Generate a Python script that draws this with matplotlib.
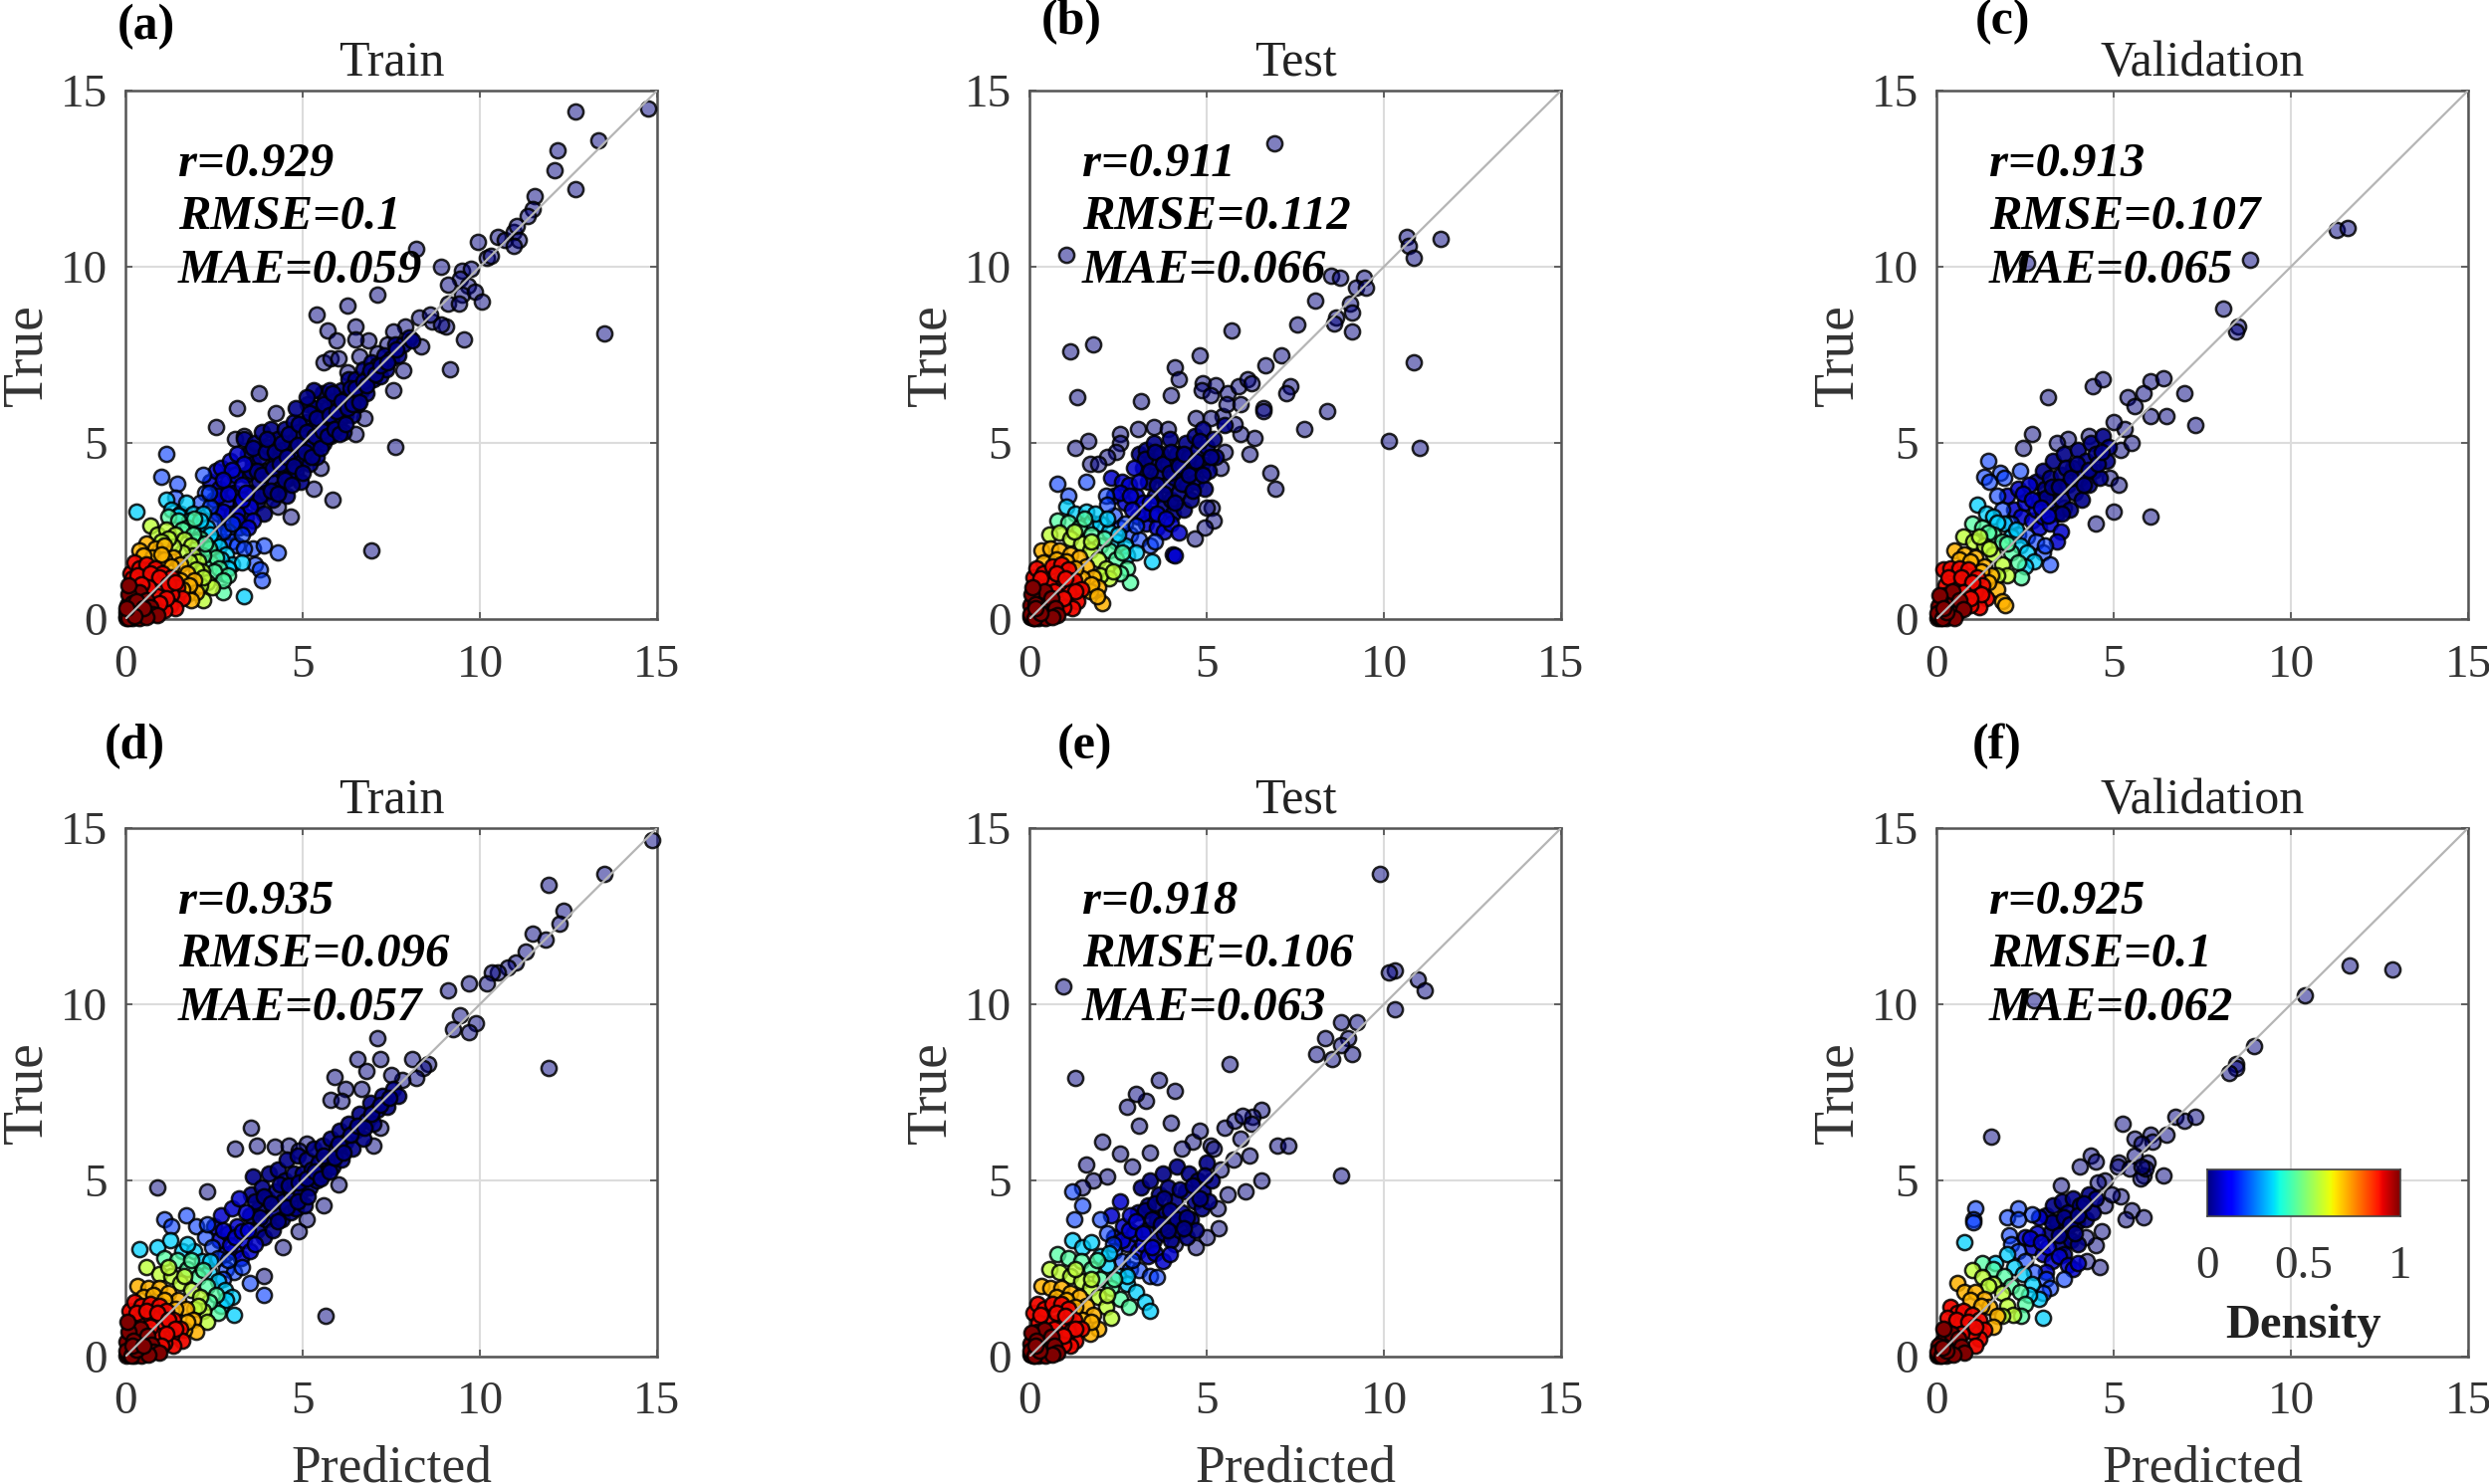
import numpy as np
import matplotlib
matplotlib.use('Agg')
import matplotlib.pyplot as plt

plt.rcParams['font.family'] = ['Liberation Serif', 'DejaVu Serif']

W, H = 2500, 1491

# density given to each list of points, same order in every panel
density_levels = [0.0, 0.01, 0.07, 0.18, 0.33, 0.45, 0.58, 0.72, 0.9, 1.0]
level_alpha = [0.5, 0.9, 0.85, 0.6, 0.75, 0.75, 0.8, 0.85, 0.95, 1.0]

panel_letters = ['(a)', '(b)', '(c)', '(d)', '(e)', '(f)']
panel_titles = ['Train', 'Test', 'Validation', 'Train', 'Test', 'Validation']
r_values = ['0.929', '0.911', '0.913', '0.935', '0.918', '0.925']
rmse_values = ['0.1', '0.112', '0.107', '0.096', '0.106', '0.1']
mae_values = ['0.059', '0.066', '0.065', '0.057', '0.063', '0.062']
axis_ticks = [0, 5, 10, 15]

a_points = [
    [(14.75,14.5),(12.7,14.4),(13.35,13.6),(12.2,13.3),(12.1,12.75),(12.7,12.2),(11.55,12.0),(11.5,11.65),(11.35,11.45),
     (9.95,10.7),(10.5,10.85),(10.7,10.75),(10.95,11.0),(11.05,11.15),(11.1,10.75),(10.95,10.6),(10.2,10.25),(10.3,10.3),
     (8.2,10.5),(8.9,10.0),(9.5,9.9),(9.75,9.95),(9.45,9.65),(9.1,9.5),(9.65,9.45),(9.5,9.2),(9.85,9.3),(10.05,9.0),(9.1,8.95),
     (9.4,8.95),(7.1,9.2),(6.25,8.9),(5.4,8.65),(6.5,8.3),(5.7,8.2),(5.95,7.9),(9.05,8.3),(9.55,7.95),(13.5,8.1),(9.15,7.1),
     (7.6,4.9),(6.95,1.95),(5.85,3.4),(3.75,6.4),(3.15,6.0),(2.55,5.45),(4.25,5.85),(6.5,5.25),(6.75,5.7),(7.55,6.5),(7.85,7.05),
     (8.35,7.75),(8.65,8.45),(8.9,8.35),(8.3,8.55),(8.6,8.65),(7.9,8.3),(7.55,8.15),(7.4,7.8),(6.85,7.9),(6.5,7.95),(6.6,7.45),
     (5.6,7.3),(5.8,7.4),(6.0,7.4),(6.25,7.0),(7.1,7.55),(4.65,2.9),(4.3,3.2),(5.3,3.7),(5.5,4.3),(3.1,5.1),(3.35,5.2)],
    [(3.4,4.1),(3.45,4.7),(3.35,5.1),(3.55,3.6),(3.6,4.4),(3.65,5.0),(3.7,3.3),(3.75,3.9),(3.8,4.6),(3.85,5.3),(3.9,3.0),(3.95,3.6),
     (4.0,4.2),(4.05,4.9),(4.1,5.4),(4.15,3.4),(4.2,3.9),(4.25,4.5),(4.3,5.1),(4.35,3.7),(4.4,4.2),(4.45,4.8),(4.5,5.4),(4.55,3.5),
     (4.6,4.0),(4.65,4.5),(4.7,5.0),(4.75,5.6),(4.8,4.2),(4.85,4.7),(4.9,5.3),(4.95,3.9),(5.0,4.5),(5.05,5.0),(5.1,5.6),(5.15,6.1),
     (5.2,4.4),(5.25,4.9),(5.3,5.4),(5.35,6.0),(5.4,4.6),(5.45,5.1),(5.5,5.7),(5.55,6.4),(5.6,5.0),(5.65,5.5),(5.7,6.0),(5.75,6.5),
     (5.8,5.2),(5.85,5.7),(5.9,6.2),(6.0,5.5),(6.05,6.0),(6.1,6.5),(6.15,5.3),(6.2,5.8),(6.25,6.3),(6.3,6.8),(6.4,5.8),(6.45,6.3),
     (6.5,6.8),(6.55,6.1),(6.65,6.5),(6.7,7.1),(6.8,6.4),(6.85,6.9),(6.95,7.3),(7.0,6.8),(7.1,7.2),(7.2,6.9),(7.3,7.5),(7.35,7.1),
     (7.5,7.4),(7.6,7.8),(7.7,7.5),(7.85,7.8),(8.0,8.0),(8.1,7.9),(5.3,6.5),(5.1,6.3),(4.8,6.0),
     (3.55,4.2),(3.6,4.85),(3.7,4.2),(3.8,3.5),(3.85,4.1),(3.95,4.75),(4.0,5.1),(4.1,3.65),(4.15,4.3),(4.2,4.75),(4.3,3.55),(4.35,4.4),
     (4.4,5.0),(4.5,3.95),(4.55,4.6),(4.6,5.25),(4.7,3.8),(4.75,4.35),(4.85,4.95),(4.9,5.55),(5.0,4.15),(5.05,4.75),(5.1,5.3),(5.2,5.85),
     (5.25,4.6),(5.35,5.2),(5.4,5.7),(5.5,4.85),(5.55,5.35),(5.6,6.1),(5.7,5.2),(5.75,5.8),(5.85,6.4),(5.9,5.4),(5.95,5.9),(6.05,5.25),
     (6.1,6.2),(6.2,5.55),(6.25,6.0),(6.35,6.55),(6.4,6.1),(6.5,6.55),(6.6,6.15),(6.7,6.75),(6.8,6.65),(6.9,7.05),(7.05,6.95),(7.2,7.2),
     (7.4,7.3),(7.65,7.65)],
    [(2.4,3.9),(2.5,3.4),(2.55,4.2),(2.6,3.0),(2.65,3.7),(2.7,4.3),(2.8,2.7),(2.85,3.3),(2.9,3.9),(2.95,4.5),(3.0,3.0),(3.05,3.6),
     (3.1,4.1),(3.15,4.7),(3.2,2.6),(3.25,3.3),(3.3,3.8),(3.35,4.4),(3.4,2.9),(3.5,3.2),(3.6,2.8),
     (2.6,3.5),(2.75,3.05),(2.9,3.55),(3.0,4.25),(3.15,3.0),(3.3,3.4),(3.4,3.6),(2.75,3.95),(3.15,2.8),(3.45,2.6)],
    [(1.15,4.7),(1.0,4.05),(1.45,3.85),(1.4,3.45),(2.2,4.1),(2.25,3.6),(2.1,3.3),(2.4,3.2),(2.5,2.8),(2.6,2.4),(2.75,2.2),(2.9,2.5),
     (3.0,2.2),(3.15,2.1),(3.3,2.4),(3.6,2.0),(3.65,1.55),(3.8,1.4),(3.85,1.1),(3.35,2.0),(4.3,1.9),(3.9,2.1),(2.35,3.6),(2.75,2.5),(3.0,2.7)],
    [(0.3,3.05),(1.15,3.4),(1.3,3.1),(1.55,3.0),(1.7,3.3),(1.9,3.0),(2.0,2.6),(2.2,3.0),(2.3,2.6),(2.5,2.2),(2.65,2.05),(2.85,1.85),
     (3.0,1.55),(2.75,1.3),(2.4,1.9),(3.3,1.6),(3.35,0.65),(1.5,2.95),(1.8,2.8),(2.1,2.8),(2.4,2.4),(2.7,1.7),(2.9,1.45)],
    [(1.2,2.9),(1.5,2.8),(1.75,2.6),(1.95,2.85),(2.1,2.3),(2.35,2.0),(2.4,1.6),(2.55,1.75),(2.65,1.45),(2.9,1.25),(2.2,1.8),(2.75,0.75),(2.0,2.2),
     (1.6,2.55),(1.9,2.4),(2.25,2.15),(2.5,1.35),(2.75,1.1)],
    [(0.7,2.65),(0.9,2.4),(1.15,2.55),(1.4,2.4),(1.65,2.25),(1.85,2.1),(1.9,1.8),(2.05,1.65),(2.15,1.35),(2.3,1.05),(2.45,0.9),(2.1,0.95),
     (2.2,0.55),(1.6,1.9),(1.35,2.05),(1.2,2.3),(1.8,1.65),(2.0,1.4),(2.2,1.2),(1.0,2.2)],
    [(0.6,2.15),(0.85,2.0),(1.1,2.1),(1.35,1.75),(1.55,1.55),(1.75,1.3),(1.95,1.1),(2.0,0.75),(1.75,0.7),(0.4,1.95),(0.75,1.75),(1.1,1.7),
     (1.55,1.1),(1.8,0.95),(0.5,1.8),(1.0,1.85),(1.3,1.5),(1.6,0.85),(1.85,0.55)],
    [(0.15,1.3),(0.25,1.6),(0.4,1.45),(0.6,1.55),(0.85,1.45),(1.05,1.3),(1.3,1.2),(1.45,0.9),(1.6,0.6),(1.3,0.7),(1.0,0.95),(0.75,1.1),
     (0.5,1.15),(1.25,0.4),(1.05,0.45),(1.4,0.3),(0.3,1.0),(0.9,0.65),(0.55,0.85),(1.1,0.25),(0.8,0.3),
     (0.2,1.15),(0.35,1.25),(0.7,1.3),(0.95,1.2),(1.2,1.0),(1.4,1.05),(1.15,0.6),(0.65,0.9),(0.95,0.45),(0.45,1.0)],
    [(0.05,0.1),(0.1,0.05),(0.12,0.3),(0.2,0.15),(0.15,0.55),(0.3,0.3),(0.35,0.1),(0.25,0.75),(0.45,0.5),(0.55,0.2),(0.4,0.75),(0.6,0.55),
     (0.7,0.35),(0.75,0.15),(0.9,0.1),(0.05,0.4),(0.08,0.7),(0.02,0.02),(0.03,0.2),(0.2,0.02),(0.4,0.03),(0.6,0.05),(0.08,0.95),(0.2,0.45),
     (0.3,0.5),(0.5,0.3),(0.15,0.15),(0.12,0.12),(0.1,0.2),(0.06,0.06),(0.02,0.08),(0.08,0.02),(0.25,0.08),(0.04,0.3)],
]

b_points = [
    [(6.9,13.5),(1.05,10.35),(10.65,10.85),(10.7,10.6),(11.6,10.8),(10.85,10.25),(8.5,9.75),(8.75,9.7),(9.45,9.7),(9.2,9.4),(9.5,9.4),
     (8.05,9.05),(9.05,8.95),(9.1,8.7),(8.65,8.55),(8.6,8.4),(7.55,8.35),(9.1,8.15),(5.7,8.2),(7.1,7.5),(1.15,7.6),(1.8,7.8),(4.8,7.5),
     (6.65,7.2),(10.85,7.3),(4.1,7.15),(4.2,6.8),(1.35,6.3),(3.15,6.2),(4.0,6.35),(4.9,6.7),(5.25,6.65),(4.85,6.5),(5.1,6.35),(5.6,6.4),
     (5.9,6.6),(6.15,6.8),(6.25,6.7),(7.35,6.6),(7.25,6.4),(6.6,6.0),(6.6,5.9),(8.4,5.9),(7.75,5.4),(10.15,5.05),(11.0,4.85),(6.35,5.15),
     (6.2,4.7),(6.8,4.15),(6.95,3.7),(5.4,4.3),(5.5,4.75),(5.95,5.25),(5.8,5.55),(5.45,5.75),(5.55,6.1),(5.95,6.1),(5.1,5.7),(4.7,5.7),
     (3.5,5.45),(3.05,5.4),(3.9,5.4),(2.55,5.25),(2.55,5.0),(2.45,4.75),(1.65,5.05),(1.3,4.85),(2.2,4.6),(1.7,4.4),(1.95,4.4),(5.15,3.15),
     (5.2,2.8),(4.95,2.6),(4.65,2.3),(5.0,3.15)],
    [(3.1,4.7),(3.2,4.3),(3.3,4.8),(3.35,3.9),(3.45,4.5),(3.5,5.0),(3.55,3.5),(3.65,4.1),(3.7,4.7),(3.75,3.2),(3.85,3.8),(3.9,4.4),
     (3.95,5.1),(4.0,3.4),(4.05,3.0),(4.1,4.0),(4.15,4.7),(4.2,3.6),(4.3,4.3),(4.35,3.1),(4.4,5.0),(4.45,3.8),(4.5,4.6),(4.55,3.4),
     (4.6,4.2),(4.65,5.2),(4.7,3.9),(4.75,4.8),(4.85,4.4),(4.9,5.4),(4.95,3.7),(5.0,4.9),(5.05,4.2),(5.2,5.1),(5.25,4.6),(5.5,5.5),
     (3.25,4.55),(3.4,4.2),(3.55,4.75),(3.6,3.8),(3.75,4.4),(3.8,3.55),(3.95,4.15),(4.0,4.75),(4.1,3.3),(4.2,4.35),(4.3,3.85),(4.35,4.7),
     (4.5,4.1),(4.6,3.65),(4.7,4.5),(4.8,5.05),(4.9,4.1),(5.1,4.6)],
    [(2.3,4.0),(2.4,3.5),(2.6,3.9),(2.7,3.3),(2.8,3.8),(2.95,4.3),(3.0,3.5),(3.05,2.9),(3.2,3.3),(3.3,2.7),(3.45,3.0),(3.6,2.6),(3.8,2.5),
     (4.0,2.7),(4.2,2.45),(4.05,1.85),(4.1,1.8),(2.55,3.6),(2.85,3.5),(3.1,3.9),(3.2,3.0),(3.4,3.3),(3.6,3.0),(3.85,2.85),(2.9,3.1)],
    [(0.8,3.85),(1.6,3.9),(2.15,3.5),(2.4,2.95),(2.55,2.6),(2.85,2.4),(3.1,2.25),(3.4,2.1),(3.55,2.2),(1.1,3.5),(2.2,3.25),(2.7,2.7),(3.0,2.65)],
    [(1.05,3.2),(1.3,3.0),(1.6,3.05),(1.75,2.75),(2.0,2.7),(2.25,2.5),(2.45,2.2),(2.7,2.1),(2.75,1.8),(3.45,1.65),(3.0,1.9),(1.85,3.0),(2.2,2.85),(2.5,2.4)],
    [(0.8,2.8),(1.1,2.75),(1.4,2.6),(1.75,2.4),(2.0,2.1),(2.25,1.95),(2.45,1.7),(2.75,1.45),(2.85,1.05),(2.55,1.3),(1.55,2.85),(2.1,2.3),(2.6,1.9)],
    [(0.55,2.4),(0.85,2.45),(1.15,2.3),(1.45,2.15),(1.7,1.95),(1.95,1.7),(2.15,1.45),(2.25,1.15),(2.0,1.25),(1.25,2.5),(1.75,2.2),(2.35,1.35)],
    [(0.35,1.95),(0.6,2.0),(0.85,1.95),(1.15,1.85),(1.4,1.75),(1.6,1.5),(1.8,1.2),(1.95,0.9),(2.05,0.45),(1.7,0.8),(1.5,1.15),(0.4,1.6),
     (0.75,1.7),(1.05,1.65),(1.3,1.45),(1.75,1.0),(1.9,0.65)],
    [(0.1,1.2),(0.2,1.45),(0.4,1.3),(0.65,1.5),(0.9,1.55),(1.1,1.4),(1.25,1.1),(1.45,0.85),(1.35,0.5),(1.1,0.75),(0.85,1.05),(0.55,0.95),
     (0.25,0.9),(1.2,0.3),(0.95,0.35),(0.3,1.15),(0.75,1.3),(1.0,1.15),(1.3,0.8),(0.7,0.8),(0.95,0.6)],
    [(0.03,0.05),(0.1,0.02),(0.08,0.25),(0.2,0.12),(0.12,0.5),(0.3,0.35),(0.35,0.08),(0.22,0.7),(0.48,0.55),(0.55,0.18),(0.42,0.8),(0.62,0.6),
     (0.72,0.32),(0.8,0.12),(0.03,0.4),(0.05,0.7),(0.25,0.02),(0.45,0.03),(0.65,0.06),(0.18,0.42),(0.07,0.07),(0.14,0.14),(0.02,0.15),(0.15,0.03),
     (0.3,0.18),(0.18,0.3),(0.08,0.9)],
]

c_points = [
    [(11.3,11.05),(11.6,11.1),(8.85,10.2),(8.1,8.8),(8.5,8.3),(8.45,8.15),(2.55,10.1),(3.15,6.3),(4.4,6.6),(4.7,6.8),(6.05,6.75),(6.4,6.85),
     (5.4,6.3),(5.6,6.05),(5.85,6.4),(6.05,5.75),(7.3,5.5),(6.5,5.75),(6.05,2.9),(5.0,3.05),(4.5,2.7),(3.6,3.15),(2.45,4.85),(2.7,5.25),
     (5.3,5.4),(5.0,5.6),(4.3,5.2),(5.2,4.8),(4.9,4.0),(5.5,5.0),(7.0,6.4),(3.7,5.1),(5.15,3.8),(3.4,5.0)],
    [(2.8,3.9),(2.9,3.4),(3.0,4.2),(3.05,3.7),(3.15,3.2),(3.2,4.0),(3.3,4.5),(3.35,3.6),(3.4,3.0),(3.5,4.1),(3.55,3.4),(3.6,4.7),(3.7,3.8),
     (3.75,3.1),(3.85,4.3),(3.9,3.6),(4.0,4.8),(4.05,4.0),(4.1,3.4),(4.2,4.5),(4.3,3.8),(4.35,5.0),(4.45,4.2),(4.5,4.7),(4.6,4.0),(4.7,5.2),
     (4.8,4.5),(4.85,4.9),(3.1,3.45),(3.25,3.75),(3.45,3.75),(3.65,4.3),(3.8,4.0),(3.95,4.4),(4.15,3.8),(4.3,4.25),(4.55,4.4),(4.65,4.75),(3.55,3.0)],
    [(2.0,3.5),(2.2,3.1),(2.3,3.7),(2.4,2.9),(2.5,3.3),(2.6,3.8),(2.7,2.8),(2.8,3.1),(2.9,2.6),(3.0,2.9),(3.2,2.7),(3.5,2.5),(3.4,2.2),
     (2.45,3.55),(2.7,3.4),(2.95,3.15),(3.15,2.95)],
    [(1.45,4.5),(1.35,4.05),(1.8,4.15),(2.35,4.2),(1.5,3.9),(1.9,4.0),(1.7,3.5),(1.85,3.1),(2.1,2.7),(2.3,2.4),(2.55,2.35),(2.8,2.2),(3.0,1.9),
     (3.05,2.1),(3.2,1.55)],
    [(1.15,3.25),(1.4,3.0),(1.6,2.9),(1.9,2.7),(2.1,2.35),(2.35,2.1),(2.55,1.9),(2.75,1.65),(2.5,1.5),(1.7,2.75),(2.25,2.55)],
    [(1.0,2.7),(1.3,2.6),(1.6,2.4),(1.85,2.2),(2.1,1.9),(2.3,1.6),(2.4,1.2),(1.45,2.45),(2.0,2.15)],
    [(0.75,2.35),(1.05,2.2),(1.35,2.1),(1.6,1.85),(1.85,1.55),(2.0,1.25),(1.7,1.25),(1.2,2.35),(1.5,2.0)],
    [(0.5,1.95),(0.8,1.85),(1.1,1.75),(1.35,1.5),(1.55,1.25),(1.7,0.85),(1.85,0.5),(1.95,0.4),(0.65,1.7),(0.95,1.65),(1.25,1.35),(1.45,1.05)],
    [(0.2,1.4),(0.4,1.45),(0.65,1.45),(0.9,1.4),(1.15,1.2),(1.3,0.95),(1.4,0.6),(1.1,0.8),(0.85,1.0),(0.55,1.0),(0.25,0.95),(1.2,0.35),(0.95,0.4),
     (0.35,1.2),(0.7,1.2),(1.0,1.05),(1.25,0.7),(0.75,0.75),(0.95,0.6)],
    [(0.04,0.03),(0.12,0.04),(0.1,0.22),(0.22,0.14),(0.14,0.48),(0.32,0.3),(0.38,0.1),(0.26,0.68),(0.5,0.5),(0.58,0.2),(0.44,0.78),(0.65,0.55),
     (0.75,0.28),(0.05,0.36),(0.08,0.68),(0.28,0.02),(0.5,0.04),(0.07,0.08),(0.16,0.16),(0.02,0.16),(0.18,0.03),(0.28,0.2),(0.2,0.3)],
]

d_points = [
    [(14.85,14.65),(13.5,13.7),(11.95,13.4),(12.35,12.65),(12.25,12.3),(11.5,12.0),(11.85,11.85),(11.95,8.2),(11.3,11.5),(11.0,11.2),(10.8,11.05),
     (10.5,10.9),(10.35,10.9),(10.2,10.6),(9.7,10.6),(9.1,10.4),(9.45,9.7),(9.9,9.45),(9.25,9.3),(9.7,9.2),(7.1,9.05),(7.2,8.45),(5.9,7.95),
     (6.55,8.45),(8.1,8.45),(8.55,8.3),(5.1,6.05),(3.55,6.5),(3.1,5.9),(5.65,1.15),(0.9,4.8),(2.3,4.7),(8.4,8.2),(8.2,7.9),(7.8,7.85),(7.5,8.0),
     (6.8,8.1),(6.2,7.6),(6.65,7.6),(5.8,7.3),(6.1,7.25),(7.2,6.5),(7.0,6.0),(6.0,4.9),(5.6,4.3),(5.1,3.9),(4.9,3.55),(4.45,3.1),(3.9,2.3),(3.7,6.0),
     (4.2,5.95),(4.6,6.0),(4.9,5.85)],
    [(3.5,4.0),(3.55,4.6),(3.6,5.1),(3.7,3.6),(3.75,4.2),(3.85,4.8),(3.9,3.4),(3.95,3.9),(4.0,4.5),(4.05,5.2),(4.15,3.6),(4.2,4.1),(4.25,4.7),
     (4.3,5.3),(4.4,3.9),(4.45,4.4),(4.5,5.0),(4.55,5.6),(4.65,4.1),(4.7,4.6),(4.75,5.2),(4.8,4.2),(4.85,5.7),(4.95,4.7),(5.0,5.2),(5.05,4.3),
     (5.1,5.6),(5.2,4.8),(5.25,5.3),(5.3,5.9),(5.4,5.0),(5.45,5.5),(5.55,6.0),(5.6,5.2),(5.7,5.6),(5.8,6.2),(5.85,5.4),(5.95,5.9),(6.05,6.4),
     (6.1,5.6),(6.2,6.1),(6.3,6.6),(6.4,5.9),(6.5,6.4),(6.6,6.9),(6.7,6.2),(6.8,6.7),(6.9,7.2),(7.0,6.6),(7.1,7.0),(7.25,7.4),(7.4,7.1),(7.55,7.6),(7.7,7.4),
     (3.65,4.4),(3.8,3.95),(3.9,4.55),(4.1,4.35),(4.3,3.85),(4.35,4.9),(4.55,4.25),(4.6,4.85),(4.85,4.4),(4.9,4.95),(5.1,5.05),(5.15,4.55),(5.35,5.25),
     (5.5,5.05),(5.6,5.7),(5.75,5.25),(5.9,5.65),(6.0,6.05),(6.15,5.8),(6.35,6.3),(6.55,6.55),(6.75,6.5),(6.95,6.9),(7.2,7.15),(7.45,7.35)],
    [(2.5,3.7),(2.65,3.3),(2.7,4.0),(2.8,2.9),(2.9,3.5),(3.0,4.2),(3.05,3.0),(3.15,3.7),(3.2,4.5),(3.25,2.8),(3.35,3.3),(3.4,4.1),(3.5,3.0),(3.65,3.2),
     (2.75,3.6),(2.95,3.15),(3.1,3.4),(3.3,3.55),(3.45,3.6)],
    [(1.7,4.0),(2.0,3.7),(2.25,3.4),(2.45,3.1),(2.6,2.8),(2.85,2.5),(3.05,2.4),(3.3,2.55),(2.75,2.2),(1.1,3.9),(1.3,3.7),(3.5,2.1),(3.9,1.75),(2.3,3.75),(2.9,2.75)],
    [(0.4,3.05),(0.9,3.1),(1.25,3.3),(1.6,3.0),(1.95,3.0),(2.15,2.7),(2.35,2.4),(2.6,2.15),(2.8,1.9),(3.0,1.7),(3.05,1.2),(2.7,1.45),(1.75,3.2),(2.4,2.7),(2.85,1.6)],
    [(1.1,2.8),(1.45,2.75),(1.75,2.5),(2.05,2.25),(2.3,2.0),(2.55,1.75),(2.6,1.25),(2.35,1.55),(1.85,2.75),(2.2,2.45)],
    [(0.6,2.55),(0.95,2.35),(1.3,2.3),(1.55,2.1),(1.85,1.9),(2.1,1.7),(2.2,1.3),(2.3,1.0),(1.95,1.35),(1.2,2.55),(1.65,2.3),(2.05,1.45)],
    [(0.35,2.0),(0.65,1.95),(0.95,1.95),(1.2,1.8),(1.5,1.6),(1.7,1.35),(1.9,1.05),(2.0,0.7),(1.65,0.75),(0.5,1.7),(0.8,1.75),(1.1,1.6),(1.4,1.35),(1.75,1.0)],
    [(0.12,1.3),(0.25,1.55),(0.45,1.45),(0.7,1.5),(0.95,1.45),(1.15,1.3),(1.35,1.05),(1.55,0.8),(1.6,0.45),(1.3,0.6),(1.05,0.9),(0.8,1.1),(0.55,1.1),
     (1.35,0.3),(1.1,0.4),(0.3,1.0),(0.9,0.6),(0.3,1.25),(0.6,1.3),(0.9,1.25),(1.2,1.05),(1.4,0.8),(1.15,0.65),(0.7,0.85),(1.0,0.3)],
    [(0.03,0.04),(0.1,0.06),(0.1,0.28),(0.22,0.14),(0.16,0.55),(0.32,0.32),(0.36,0.12),(0.24,0.78),(0.46,0.52),(0.58,0.22),(0.42,0.78),(0.62,0.58),
     (0.74,0.34),(0.8,0.14),(0.95,0.1),(0.04,0.42),(0.08,0.72),(0.26,0.02),(0.46,0.03),(0.66,0.05),(0.07,0.98),(0.22,0.46),(0.07,0.08),(0.15,0.16),
     (0.02,0.17),(0.16,0.03),(0.3,0.2),(0.2,0.32),(0.5,0.32)],
]

e_points = [
    [(9.9,13.7),(0.95,10.5),(10.3,10.95),(10.15,10.9),(10.95,10.7),(11.15,10.4),(10.3,9.85),(8.8,9.5),(9.25,9.5),(9.0,9.05),(8.35,9.05),(8.1,8.6),
     (8.8,8.85),(9.1,8.6),(8.55,8.45),(1.3,7.9),(4.1,7.55),(3.65,7.85),(3.3,7.25),(3.0,7.45),(2.75,7.1),(5.65,8.3),(4.0,6.65),(3.1,6.55),(2.05,6.1),
     (1.6,5.45),(8.8,5.15),(6.55,7.0),(6.3,6.8),(7.0,6.0),(7.3,6.0),(6.55,5.0),(6.1,4.7),(5.35,3.65),(4.1,3.2),(5.1,6.0),(5.5,6.5),(5.8,6.7),(6.0,6.85),
     (6.25,6.6),(5.95,6.2),(6.2,5.7),(5.75,5.6),(5.4,5.3),(5.6,4.6),(4.6,6.1),(4.3,5.9),(3.4,5.8),(2.9,5.4),(2.55,5.75),(2.2,5.1),(1.8,5.0),(1.5,4.8),
     (5.3,4.2),(5.0,3.4),(4.7,3.1),(5.2,5.9),(4.8,6.4)],
    [(3.05,4.1),(3.15,4.8),(3.3,3.6),(3.35,4.3),(3.4,5.0),(3.5,3.3),(3.6,3.9),(3.65,4.6),(3.75,5.2),(3.8,3.5),(3.85,4.1),(3.9,4.8),(4.0,3.3),(4.05,3.8),
     (4.1,4.4),(4.15,5.4),(4.25,3.6),(4.3,4.1),(4.4,4.7),(4.45,3.4),(4.5,5.2),(4.55,3.9),(4.65,4.4),(4.7,3.6),(4.75,5.0),(4.85,4.2),(4.9,4.7),(5.0,5.5),
     (5.05,4.4),(5.15,5.0),(3.25,4.15),(3.45,3.9),(3.55,4.35),(3.7,3.75),(3.8,4.5),(3.95,4.15),(4.15,3.9),(4.25,4.75),(4.45,3.95),(4.6,4.85),(4.8,4.5),
     (4.95,5.15),(3.9,3.6),(4.35,3.65)],
    [(2.3,4.0),(2.4,3.4),(2.55,4.4),(2.65,3.7),(2.75,3.2),(2.85,4.0),(2.95,3.5),(3.05,3.0),(3.2,3.2),(3.35,2.85),(3.55,2.95),(3.75,2.7),(3.95,2.9),
     (2.6,3.3),(2.8,3.6),(3.0,3.85),(3.2,3.5),(3.45,3.1)],
    [(1.2,4.7),(1.5,4.3),(1.25,3.9),(2.0,3.9),(2.2,3.5),(2.4,3.0),(2.6,2.7),(2.85,2.5),(3.1,2.45),(3.4,2.3),(3.6,2.25),(2.35,3.2),(2.9,2.75)],
    [(1.2,3.3),(1.5,3.1),(1.75,3.25),(2.0,2.85),(2.2,2.6),(2.5,2.3),(2.75,2.05),(3.0,1.85),(3.25,1.55),(3.4,1.3),(2.25,2.95),(2.75,2.3)],
    [(0.8,2.9),(1.1,2.8),(1.45,2.7),(1.75,2.5),(2.0,2.2),(2.3,1.95),(2.55,1.65),(2.8,1.4),(1.9,2.75),(2.4,2.2)],
    [(0.55,2.5),(0.85,2.4),(1.15,2.3),(1.45,2.15),(1.7,1.95),(1.95,1.7),(2.15,1.4),(2.3,1.1),(1.3,2.5),(1.75,2.2),(2.2,1.75)],
    [(0.35,2.0),(0.6,1.95),(0.9,1.95),(1.15,1.8),(1.4,1.7),(1.6,1.45),(1.8,1.2),(1.95,0.8),(1.7,0.65),(1.5,1.05),(0.75,1.7),(1.05,1.6),(1.3,1.4),(1.75,1.0)],
    [(0.12,1.25),(0.22,1.5),(0.42,1.35),(0.65,1.5),(0.9,1.5),(1.1,1.35),(1.25,1.05),(1.45,0.8),(1.3,0.45),(1.1,0.7),(0.85,1.0),(0.55,0.95),(0.25,0.95),
     (1.15,0.3),(0.95,0.35),(0.3,1.2),(0.75,1.25),(1.0,1.15),(1.3,0.8),(0.7,0.8),(0.95,0.6)],
    [(0.03,0.05),(0.1,0.03),(0.09,0.26),(0.21,0.13),(0.13,0.52),(0.31,0.33),(0.34,0.09),(0.23,0.72),(0.47,0.53),(0.56,0.19),(0.41,0.76),(0.63,0.57),
     (0.71,0.3),(0.78,0.12),(0.04,0.38),(0.06,0.69),(0.24,0.02),(0.44,0.03),(0.64,0.05),(0.19,0.44),(0.06,0.07),(0.14,0.15),(0.02,0.16),(0.15,0.03),
     (0.28,0.18),(0.18,0.3)],
]

f_points = [
    [(12.87,11.0),(11.65,11.1),(10.4,10.25),(2.75,10.1),(8.95,8.8),(8.45,8.3),(8.45,8.2),(8.25,8.05),(6.75,6.8),(7.0,6.7),(7.3,6.8),(5.25,6.6),(1.55,6.25),
     (5.6,6.2),(6.05,6.3),(6.5,6.3),(6.1,6.1),(5.8,6.05),(5.6,5.7),(4.35,5.7),(4.5,5.55),(4.05,5.4),(5.15,5.5),(5.1,5.4),(5.45,5.35),(5.95,5.5),(5.85,5.15),
     (6.4,5.15),(5.75,5.05),(3.5,4.85),(4.75,5.0),(4.55,4.95),(5.2,4.55),(5.5,4.15),(5.35,3.9),(5.85,3.95),(4.6,2.55),(4.65,3.55),(4.5,3.15),(4.2,3.4),
     (4.25,2.7),(4.75,4.3),(4.95,4.6),(5.9,5.35),(5.8,5.4)],
    [(3.1,4.0),(3.2,3.5),(3.3,4.3),(3.4,3.8),(3.5,3.2),(3.55,4.4),(3.65,3.6),(3.7,4.1),(3.8,3.3),(3.85,4.5),(3.95,3.8),(4.0,3.2),(4.05,4.3),(4.2,3.9),
     (4.3,4.6),(4.4,4.1),(4.5,4.5),(3.6,2.9),(3.25,3.8),(3.45,3.45),(3.6,3.95),(3.75,3.75),(3.9,3.5),(4.0,4.0),(4.15,4.35)],
    [(2.5,3.4),(2.7,3.1),(2.85,3.5),(3.0,2.9),(3.15,3.1),(3.25,2.7),(3.45,2.85),(3.7,2.6),(3.85,2.5),(4.0,2.65),(2.9,3.95),(3.1,2.4),(2.65,3.35),(2.95,3.25)],
    [(1.1,4.2),(1.05,3.9),(1.05,3.8),(2.3,4.2),(2.7,4.05),(2.0,3.95),(2.3,3.9),(2.05,3.45),(2.1,3.2),(2.3,3.0),(2.5,2.7),(2.75,2.4),(3.1,2.2),(3.2,1.95),(3.6,2.2),(3.0,1.8)],
    [(0.8,3.25),(1.65,2.65),(2.0,2.9),(2.2,2.55),(2.45,2.35),(2.7,2.05),(2.9,1.65),(3.0,1.1),(2.6,1.75)],
    [(1.3,2.65),(1.6,2.5),(1.9,2.3),(2.1,2.0),(2.35,1.85),(2.5,1.5),(2.4,1.15)],
    [(1.0,2.45),(1.3,2.25),(1.6,2.05),(1.85,1.8),(2.0,1.45),(2.15,1.2),(1.85,1.15),(1.45,2.0)],
    [(0.6,2.1),(0.8,1.85),(1.1,1.85),(1.35,1.65),(1.5,1.4),(1.7,1.15),(1.6,0.85),(0.95,1.6),(1.25,1.45)],
    [(0.4,1.4),(0.6,1.25),(0.75,1.3),(1.0,1.2),(1.2,1.05),(1.35,0.75),(1.2,0.5),(1.0,0.7),(0.8,0.85),(0.5,0.9),(1.1,0.3),(0.3,1.1),(0.55,1.05),(0.9,1.0),
     (1.1,0.85),(0.7,0.65)],
    [(0.02,0.03),(0.1,0.02),(0.1,0.2),(0.22,0.12),(0.15,0.4),(0.3,0.28),(0.35,0.08),(0.25,0.6),(0.45,0.42),(0.55,0.18),(0.42,0.65),(0.62,0.5),(0.7,0.28),
     (0.2,0.8),(0.05,0.3),(0.8,0.12),(0.28,0.02),(0.48,0.05),(0.06,0.07),(0.14,0.13),(0.02,0.14),(0.15,0.03),(0.28,0.16),(0.18,0.26)],
]

all_points = [a_points, b_points, c_points, d_points, e_points, f_points]

# axes boxes in image pixels: left, top, width, height
col_left = [126, 1034, 1945]
row_top = [91, 832]
box_w, box_h = 534, 531
# panel letter centres in image pixels
letter_xy = [(147, 27), (1076, 22), (2012, 22), (135, 750), (1089, 750), (2006, 750)]

cmap = plt.get_cmap('jet')


def pixel_axes(fig, left, top, width, height):
    return fig.add_axes([left / W, 1 - (top + height) / H, width / W, height / H])


def draw_panel(ax, points, title, r, rmse, mae, show_xlabel):
    ax.plot([0, 15], [0, 15], color='#b5b5b5', lw=1.6, zorder=4)
    for level, alpha, pts in zip(density_levels, level_alpha, points):
        x = [p[0] for p in pts]
        y = [p[1] for p in pts]
        face = list(cmap(level)[:3]) + [alpha]
        ax.scatter(x, y, s=120, color=[face], edgecolors=(0, 0, 0, 0.85), linewidths=1.8,
                   clip_on=False, zorder=3)

    ax.set_xlim(0, 15)
    ax.set_ylim(0, 15)
    ax.set_xticks(axis_ticks)
    ax.set_yticks(axis_ticks)
    ax.grid(True, color='#dcdcdc', lw=1.5)
    ax.set_axisbelow(True)
    ax.tick_params(direction='in', length=5, width=1.3, color='#555555', labelsize=34,
                   labelcolor='#333333', top=True, right=True)
    ax.tick_params(axis='x', pad=18)
    ax.tick_params(axis='y', pad=13)
    for spine in ax.spines.values():
        spine.set_color('#555555')
        spine.set_linewidth(1.8)
        spine.set_zorder(2)

    ax.set_title(title, fontsize=36, color='#222222', pad=11)
    ax.set_ylabel('True', fontsize=40, color='#333333', labelpad=5)
    if show_xlabel:
        ax.set_xlabel('Predicted', fontsize=38.5, color='#333333', labelpad=15)

    stats = [f'r={r}', f'RMSE={rmse}', f'MAE={mae}']
    for text, y in zip(stats, [12.9, 11.4, 9.9]):
        ax.text(1.48, y, text, fontsize=35, fontweight='bold', fontstyle='italic',
                color='black', va='center', ha='left', zorder=6)


fig = plt.figure(figsize=(W / 100, H / 100), dpi=100)

for i in range(6):
    ax = pixel_axes(fig, col_left[i % 3], row_top[i // 3], box_w, box_h)
    draw_panel(ax, all_points[i], panel_titles[i], r_values[i], rmse_values[i], mae_values[i], i >= 3)
    lx, ly = letter_xy[i]
    fig.text(lx / W, 1 - ly / H, panel_letters[i], fontsize=36, fontweight='bold',
             ha='center', va='center', color='black')

# density colour bar inside panel (f)
cax = pixel_axes(fig, 2217, 1175, 194, 47)
gradient = np.linspace(0, 1, 256).reshape(1, -1)
cax.imshow(gradient, cmap=cmap, aspect='auto', extent=[0, 1, 0, 1], vmin=0, vmax=1)
cax.set_yticks([])
cax.set_xticks([0, 0.5, 1])
cax.set_xticklabels(['0', '0.5', '1'])
cax.tick_params(length=0, labelsize=34, labelcolor='#333333', pad=21)
for spine in cax.spines.values():
    spine.set_color('#444444')
    spine.set_linewidth(1.2)
fig.text(2313 / W, 1 - 1332 / H, 'Density', fontsize=35, fontweight='bold', ha='center',
         va='center', color='#222222')

fig.savefig('out.png', dpi=100)
plt.close(fig)
